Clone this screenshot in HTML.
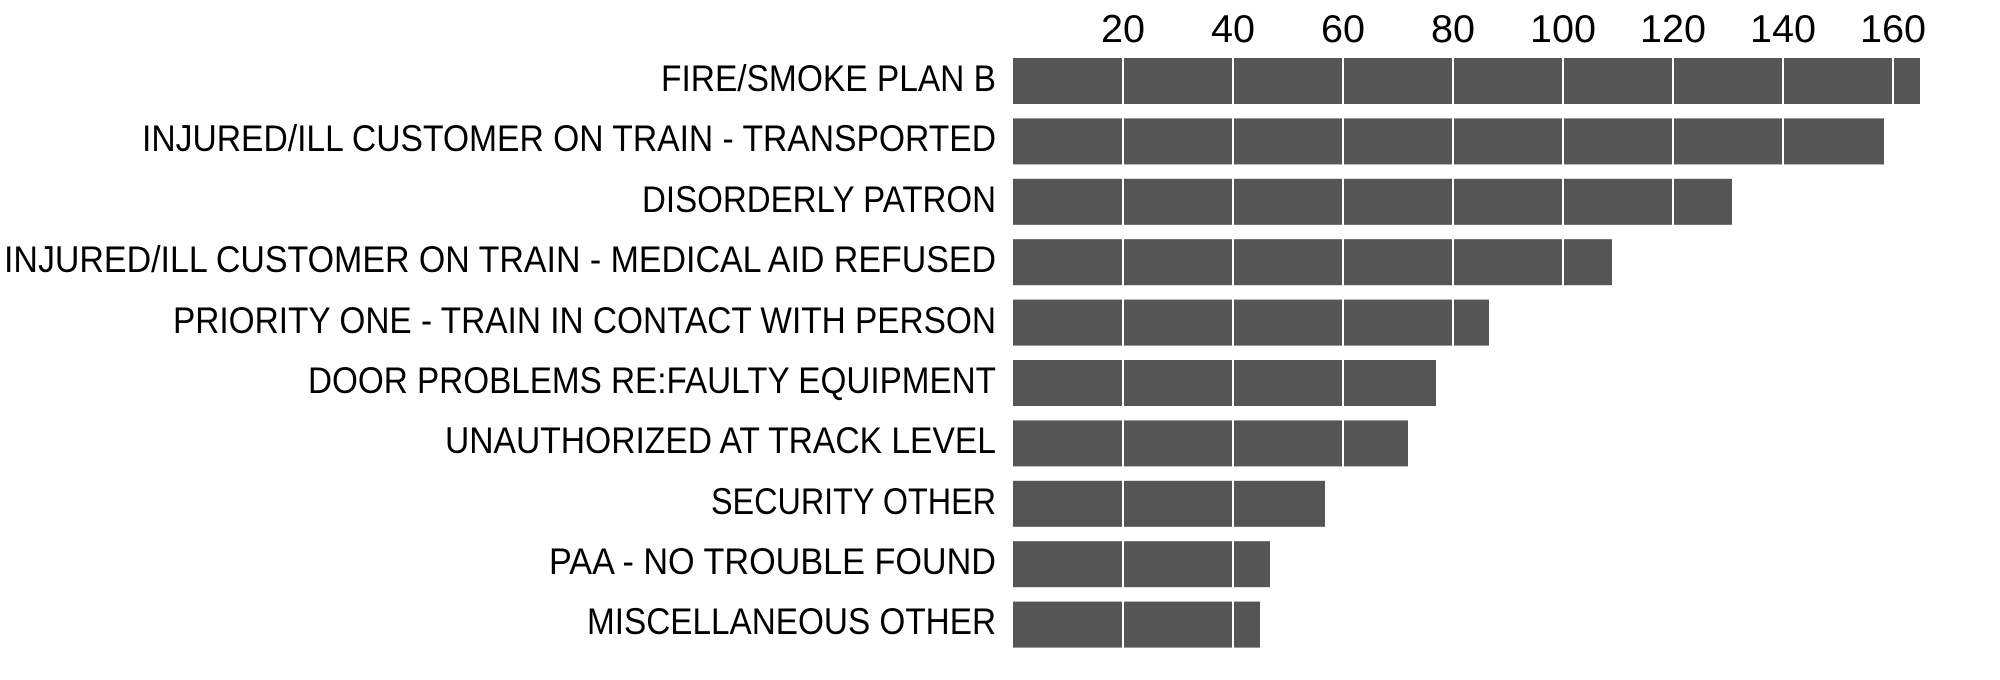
<!DOCTYPE html>
<html><head><meta charset="utf-8"><style>body{margin:0;background:#fff}svg{display:block}</style></head><body>
<svg width="2000" height="680" xmlns="http://www.w3.org/2000/svg" font-family="Liberation Sans, sans-serif">
<g font-size="39" fill="#000" text-anchor="middle">
<text x="1123" y="42" textLength="44" lengthAdjust="spacingAndGlyphs">20</text><text x="1233" y="42" textLength="44" lengthAdjust="spacingAndGlyphs">40</text><text x="1343" y="42" textLength="44" lengthAdjust="spacingAndGlyphs">60</text><text x="1453" y="42" textLength="44" lengthAdjust="spacingAndGlyphs">80</text><text x="1563" y="42" textLength="66" lengthAdjust="spacingAndGlyphs">100</text><text x="1673" y="42" textLength="66" lengthAdjust="spacingAndGlyphs">120</text><text x="1783" y="42" textLength="66" lengthAdjust="spacingAndGlyphs">140</text><text x="1893" y="42" textLength="66" lengthAdjust="spacingAndGlyphs">160</text>
</g>
<g fill="#555555">
<rect x="1013" y="58" width="907" height="46"/>
<rect x="1013" y="118.4" width="871" height="46"/>
<rect x="1013" y="178.8" width="719" height="46"/>
<rect x="1013" y="239.2" width="599" height="46"/>
<rect x="1013" y="299.6" width="476" height="46"/>
<rect x="1013" y="360" width="423" height="46"/>
<rect x="1013" y="420.4" width="395" height="46"/>
<rect x="1013" y="480.8" width="312" height="46"/>
<rect x="1013" y="541.2" width="257" height="46"/>
<rect x="1013" y="601.6" width="247" height="46"/>
</g>
<g stroke="#fff" stroke-width="2">
<line x1="1123" y1="53" x2="1123" y2="650"/><line x1="1233" y1="53" x2="1233" y2="650"/>
<line x1="1343" y1="53" x2="1343" y2="530"/><line x1="1453" y1="53" x2="1453" y2="350"/>
<line x1="1563" y1="53" x2="1563" y2="290"/><line x1="1673" y1="53" x2="1673" y2="230"/>
<line x1="1783" y1="53" x2="1783" y2="170"/><line x1="1893" y1="53" x2="1893" y2="110"/>
</g>
<g font-size="37" fill="#000" text-anchor="end">
<text x="996" y="91" textLength="335" lengthAdjust="spacingAndGlyphs">FIRE/SMOKE PLAN B</text>
<text x="996" y="151" textLength="854" lengthAdjust="spacingAndGlyphs">INJURED/ILL CUSTOMER ON TRAIN - TRANSPORTED</text>
<text x="996" y="212" textLength="354" lengthAdjust="spacingAndGlyphs">DISORDERLY PATRON</text>
<text x="996" y="272" textLength="992" lengthAdjust="spacingAndGlyphs">INJURED/ILL CUSTOMER ON TRAIN - MEDICAL AID REFUSED</text>
<text x="996" y="333" textLength="823" lengthAdjust="spacingAndGlyphs">PRIORITY ONE - TRAIN IN CONTACT WITH PERSON</text>
<text x="996" y="393" textLength="688" lengthAdjust="spacingAndGlyphs">DOOR PROBLEMS RE:FAULTY EQUIPMENT</text>
<text x="996" y="453" textLength="551" lengthAdjust="spacingAndGlyphs">UNAUTHORIZED AT TRACK LEVEL</text>
<text x="996" y="514" textLength="285" lengthAdjust="spacingAndGlyphs">SECURITY OTHER</text>
<text x="996" y="574" textLength="447" lengthAdjust="spacingAndGlyphs">PAA - NO TROUBLE FOUND</text>
<text x="996" y="634" textLength="409" lengthAdjust="spacingAndGlyphs">MISCELLANEOUS OTHER</text>
</g>
</svg>
</body></html>
